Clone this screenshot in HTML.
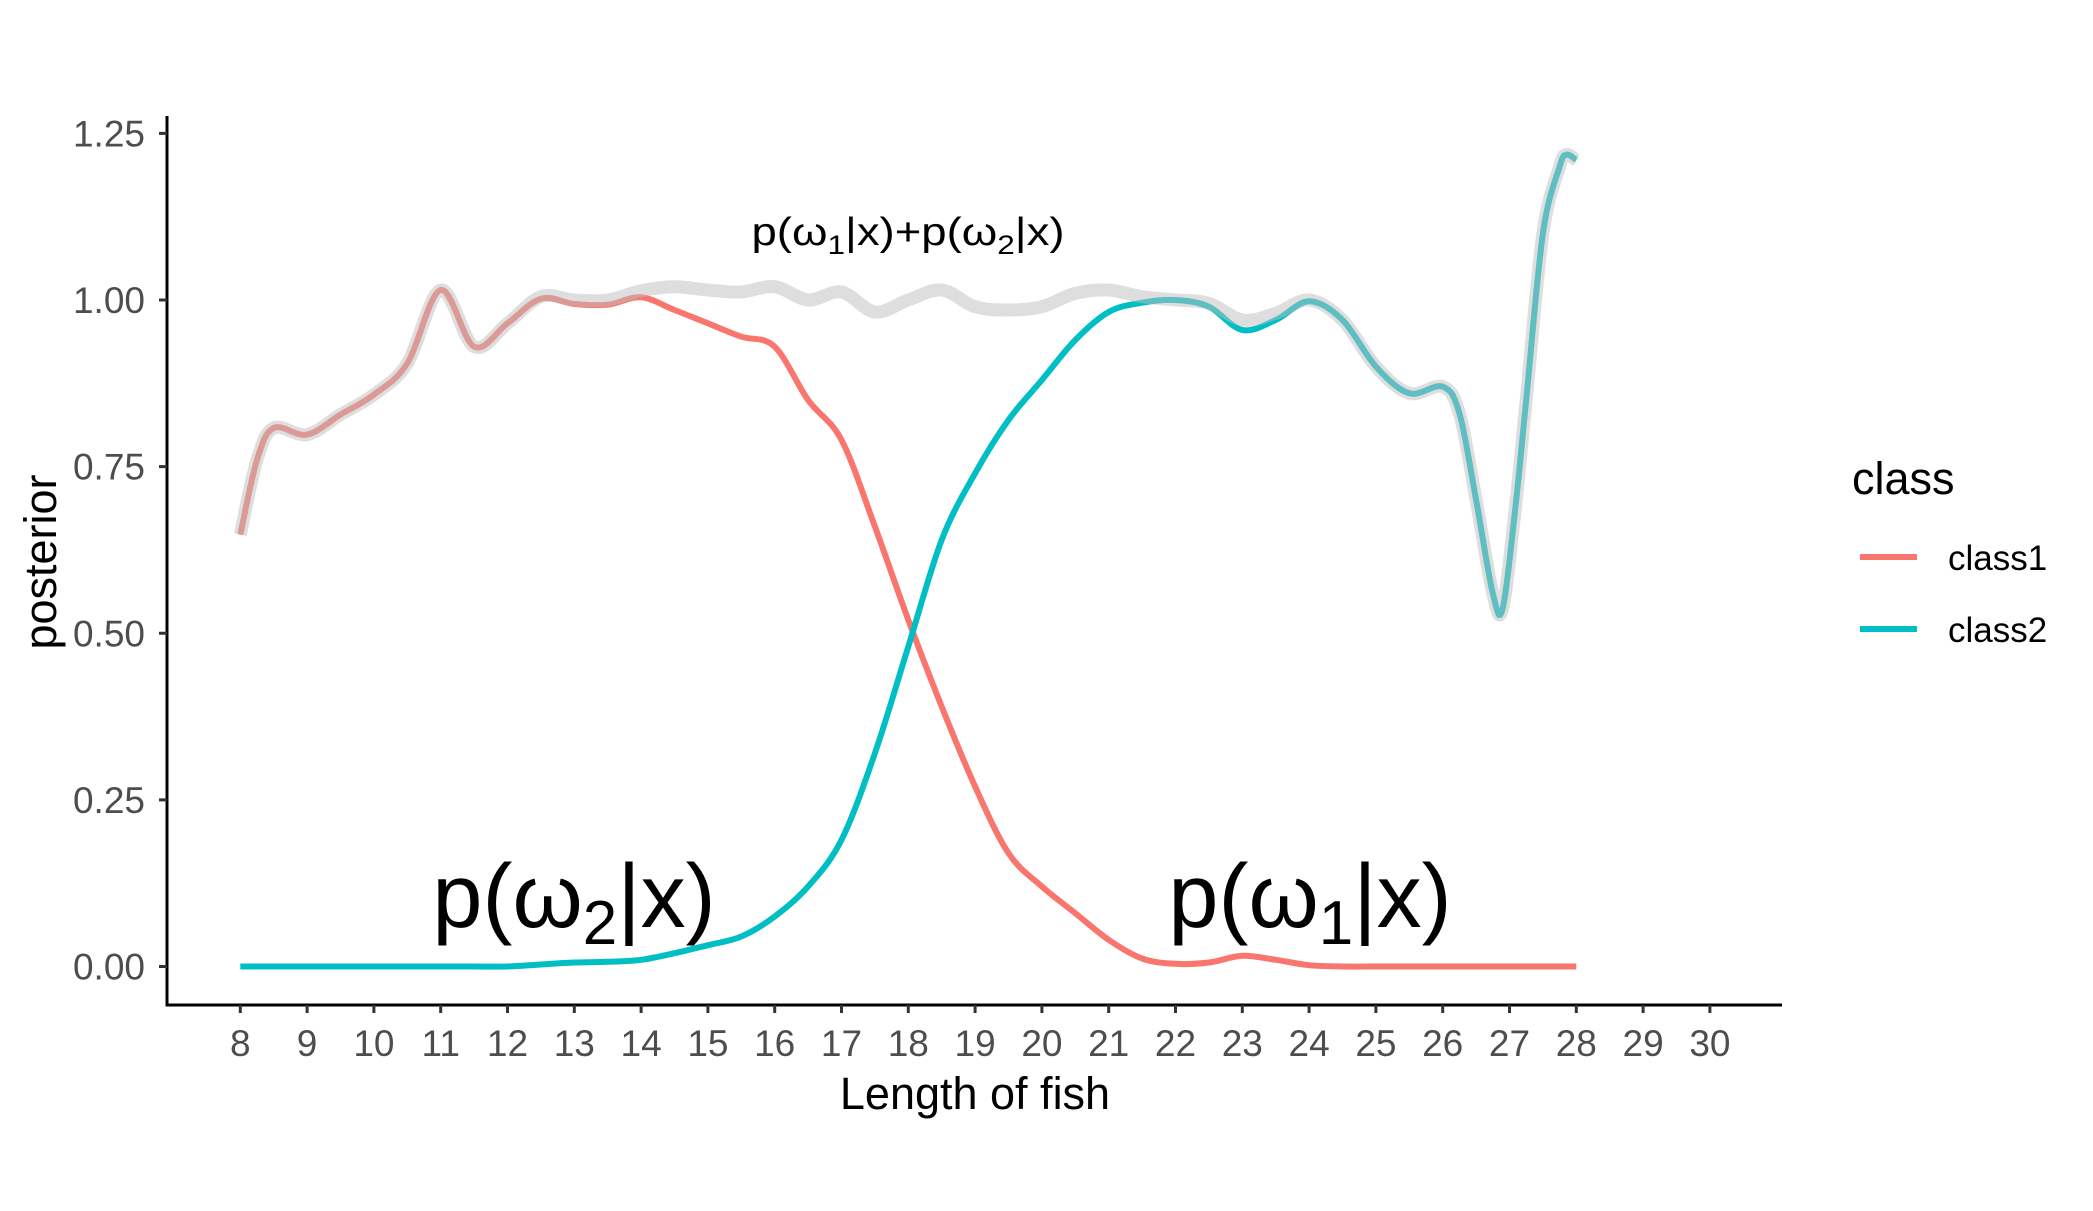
<!DOCTYPE html>
<html><head><meta charset="utf-8"><style>
html,body{margin:0;padding:0;background:#fff}
svg{display:block;font-family:"Liberation Sans",sans-serif}
</style></head><body>
<svg id="chart" width="2093" height="1211" viewBox="0 0 2093 1211" xmlns="http://www.w3.org/2000/svg">
<g id="marks"></g>
<g id="axes"></g>
<text x="908" y="245" font-size="39" text-anchor="middle" textLength="313" lengthAdjust="spacingAndGlyphs">p(ω<tspan font-size="27" dy="9">1</tspan><tspan dy="-9">|x)+p(ω</tspan><tspan font-size="27" dy="9">2</tspan><tspan dy="-9">|x)</tspan></text>
<text x="574" y="927" font-size="90" text-anchor="middle">p(ω<tspan font-size="62" dy="17">2</tspan><tspan dy="-17">|x)</tspan></text>
<text x="1310" y="927" font-size="90" text-anchor="middle">p(ω<tspan font-size="62" dy="17">1</tspan><tspan dy="-17">|x)</tspan></text>
<text x="975" y="1109" font-size="45" text-anchor="middle">Length of fish</text>
<text x="0" y="0" font-size="45" text-anchor="middle" transform="translate(56,562) rotate(-90)">posterior</text>
<g>
<text x="1852" y="494" font-size="45">class</text>
<line x1="1860" y1="557" x2="1917" y2="557" stroke="#F8766D" stroke-width="6"/>
<text x="1948" y="570" font-size="35">class1</text>
<line x1="1860" y1="629" x2="1917" y2="629" stroke="#00BFC4" stroke-width="6"/>
<text x="1948" y="642" font-size="35">class2</text>
</g>
</svg>
<script>
const xs = [8,8.25,8.5,9,9.5,10,10.5,11,11.5,12,12.5,13,13.5,14,14.5,15,15.5,16,16.5,17,17.5,18,18.5,19,19.5,20,20.5,21,21.5,22,22.5,23,23.5,24,24.5,25,25.5,26,26.25,26.5,26.75,26.9,27.1,27.25,27.5,27.75,27.85,28];
const class1 = [0.648,0.76,0.808,0.798,0.828,0.858,0.905,1.015,0.93,0.965,1.002,0.994,0.993,1.004,0.985,0.965,0.945,0.93,0.85,0.79,0.66,0.52,0.39,0.27,0.17,0.12,0.08,0.04,0.012,0.004,0.006,0.016,0.01,0.002,0,0,0,0,0,0,0,0,0,0,0,0,0,0];
const class2 = [0,0,0,0,0,0,0,0,0,0,0.003,0.006,0.007,0.01,0.02,0.032,0.045,0.075,0.12,0.19,0.32,0.48,0.64,0.74,0.82,0.88,0.94,0.982,0.996,1.0,0.99,0.955,0.97,0.998,0.97,0.9,0.86,0.87,0.83,0.7,0.56,0.538,0.7,0.85,1.1,1.2,1.218,1.21];
const total = [0.648,0.76,0.808,0.798,0.828,0.858,0.905,1.015,0.93,0.965,1.005,1.0,1.0,1.014,1.02,1.015,1.012,1.02,1.0,1.012,0.982,1.0,1.015,0.99,0.985,0.99,1.01,1.015,1.005,1.0,0.995,0.97,0.98,1.0,0.97,0.9,0.86,0.87,0.83,0.7,0.56,0.538,0.7,0.85,1.1,1.2,1.218,1.21];
const xTicks = [8,9,10,11,12,13,14,15,16,17,18,19,20,21,22,23,24,25,26,27,28,29,30];
const yTicks = [0,0.25,0.5,0.75,1.0,1.25];
const yTickLabels = ["0.00","0.25","0.50","0.75","1.00","1.25"];

const NS = "http://www.w3.org/2000/svg";
const X = v => 240.3 + (v - 8) * 66.8;
const Y = v => 966.5 - v * 666.5;

function smoothPath(vals){
  const p = xs.map((x,i)=>[X(x),Y(vals[i])]);
  let d = "M"+p[0][0].toFixed(1)+","+p[0][1].toFixed(1);
  for(let i=0;i<p.length-1;i++){
    const p0=p[Math.max(0,i-1)],p1=p[i],p2=p[i+1],p3=p[Math.min(p.length-1,i+2)];
    const c1=[p1[0]+(p2[0]-p0[0])/6,p1[1]+(p2[1]-p0[1])/6];
    const c2=[p2[0]-(p3[0]-p1[0])/6,p2[1]-(p3[1]-p1[1])/6];
    d+=" C"+c1[0].toFixed(1)+","+c1[1].toFixed(1)+" "+c2[0].toFixed(1)+","+c2[1].toFixed(1)+" "+p2[0].toFixed(1)+","+p2[1].toFixed(1);
  }
  return d;
}
const marks = document.getElementById("marks");
function addLine(vals, color, w, op, name){
  const el = document.createElementNS(NS,"path");
  el.setAttribute("d", smoothPath(vals));
  el.setAttribute("fill","none");
  el.setAttribute("stroke",color);
  el.setAttribute("stroke-width",w);
  el.setAttribute("stroke-opacity",op);
  el.setAttribute("stroke-linejoin","round");
  
  
  marks.appendChild(el);
}
addLine(class1,"#F8766D",6,1,"class1-line");
addLine(class2,"#00BFC4",6,1,"class2-line");
addLine(total,"#bdbdbd",13,0.5,"sum-line");

const axes = document.getElementById("axes");
function mk(tag, attrs){
  const el = document.createElementNS(NS, tag);
  for (const k in attrs) el.setAttribute(k, attrs[k]);
  axes.appendChild(el);
  return el;
}
const yl = mk("line",{x1:167,y1:116,x2:167,y2:1006.5,stroke:"#000","stroke-width":3});


const xl = mk("line",{x1:165.5,y1:1005,x2:1782,y2:1005,stroke:"#000","stroke-width":3});


yTicks.forEach((v,i)=>{
  const t = mk("line",{x1:159,y1:Y(v),x2:167,y2:Y(v),stroke:"#333","stroke-width":3});
  
  
  const l = mk("text",{x:145,y:Y(v)+13,"font-size":37,fill:"#4d4d4d","text-anchor":"end"});
  l.textContent = yTickLabels[i];
  
  
});
xTicks.forEach(v=>{
  const t = mk("line",{x1:X(v),y1:1005,x2:X(v),y2:1013,stroke:"#333","stroke-width":3});
  
  
  const l = mk("text",{x:X(v),y:1056,"font-size":37,fill:"#4d4d4d","text-anchor":"middle"});
  l.textContent = String(v);
  
  
});
</script>
</body></html>
